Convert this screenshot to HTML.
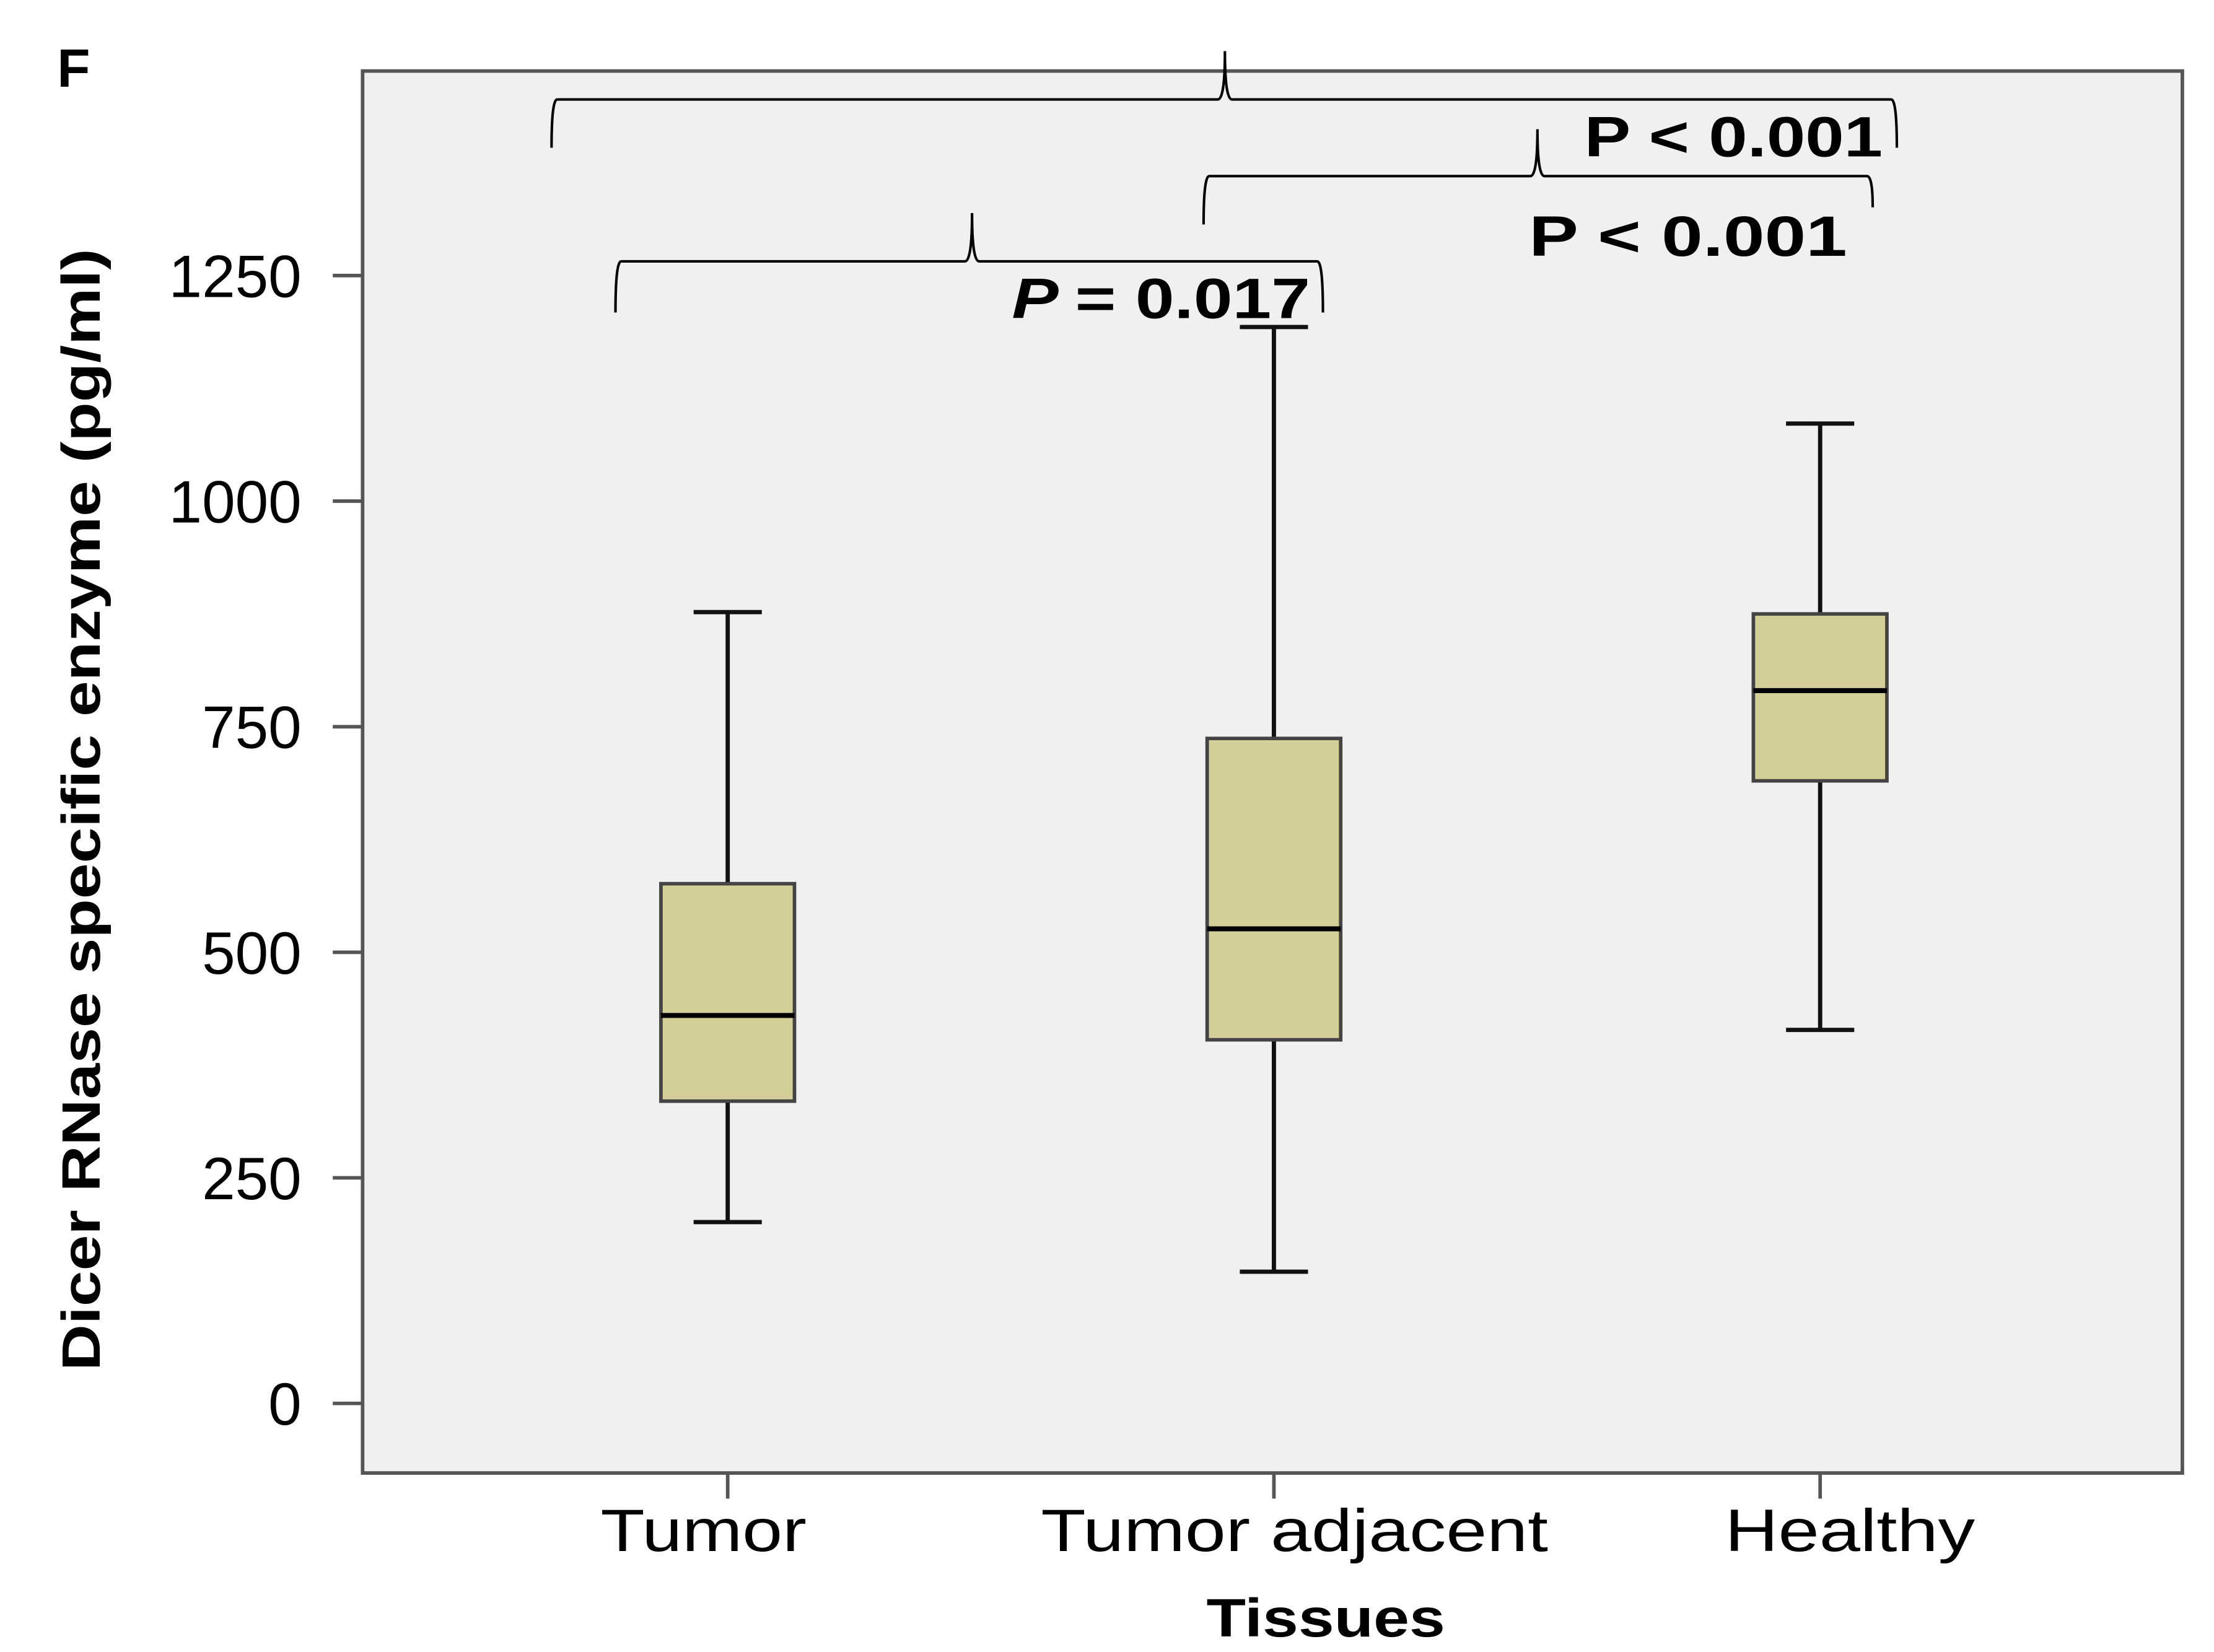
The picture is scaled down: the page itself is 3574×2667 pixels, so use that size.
<!DOCTYPE html>
<html><head><meta charset="utf-8"><style>
html,body{margin:0;padding:0;background:#fff}
svg{display:block}
text{font-family:"Liberation Sans",sans-serif}
</style></head><body>
<svg id="chart" width="3574" height="2667" viewBox="0 0 1558 1163" xmlns="http://www.w3.org/2000/svg">
<text x="40" y="61" font-size="38" font-weight="bold">F</text>
<rect x="255" y="50" width="1281" height="987" fill="#f0f0f0" stroke="#555" stroke-width="2.5"/>
<g id="yaxis"></g>
<g id="xaxis"></g>
<g id="boxes"></g>
<g id="annot" fill="none" stroke="#000"></g>
<text transform="translate(70,570) rotate(-90)" text-anchor="middle" font-size="38" font-weight="bold" textLength="790" lengthAdjust="spacingAndGlyphs">Dicer RNase specific enzyme (pg/ml)</text>
<text x="933" y="1152" text-anchor="middle" font-size="38" font-weight="bold" textLength="168" lengthAdjust="spacingAndGlyphs">Tissues</text>
</svg>
<script>
const categories = ["Tumor", "Tumor adjacent", "Healthy"];
const whiskerLow = [201, 146, 414];
const q1Values = [335, 403, 690];
const medianValues = [430, 526, 790];
const q3Values = [576, 737, 875];
const whiskerHigh = [877, 1193, 1086];
const yTicks = [0, 250, 500, 750, 1000, 1250];
const yTickLabels = ["0", "250", "500", "750", "1000", "1250"];
const pLabels = ["P < 0.001", "P  < 0.001", "= 0.017"];

const NS = "http://www.w3.org/2000/svg";
function yScale(v){ return 988 - v * (794 / 1250); }
function xScale(i){ return 512 + i * 384.5; }
function mk(tag, attrs, parent){ const e = document.createElementNS(NS, tag); for (const k in attrs) e.setAttribute(k, attrs[k]); parent.appendChild(e); return e; }

const yAxis = document.getElementById('yaxis');
yTicks.forEach((t, i) => {
  const tk = mk('line', {x1: 234, x2: 255, y1: yScale(t), y2: yScale(t), stroke: '#555', 'stroke-width': 2.5}, yAxis);
  
  
  const lbl = mk('text', {x: 212, y: yScale(t) + 15, 'text-anchor': 'end', 'font-size': 42}, yAxis);
  
  
  lbl.textContent = yTickLabels[i];
});

const xAxis = document.getElementById('xaxis');
const catWidths = [145, 357, 176];
const catCenters = [495, 911, 1302];
categories.forEach((c, i) => {
  const tk = mk('line', {x1: xScale(i), x2: xScale(i), y1: 1037, y2: 1055, stroke: '#555', 'stroke-width': 2.5}, xAxis);
  
  
  const lbl = mk('text', {x: catCenters[i], y: 1092, 'text-anchor': 'middle', 'font-size': 42, textLength: catWidths[i], lengthAdjust: 'spacingAndGlyphs'}, xAxis);
  
  
  lbl.textContent = c;
});

const boxes = document.getElementById('boxes');
categories.forEach((c, i) => {
  const cx = xScale(i), hw = 47, cw = 24;
  const g = mk('g', {}, boxes);
  
  
  mk('line', {x1: cx, x2: cx, y1: yScale(whiskerLow[i]), y2: yScale(q1Values[i]), stroke: '#111', 'stroke-width': 3}, g);
  mk('line', {x1: cx, x2: cx, y1: yScale(q3Values[i]), y2: yScale(whiskerHigh[i]), stroke: '#111', 'stroke-width': 3}, g);
  mk('line', {x1: cx - cw, x2: cx + cw, y1: yScale(whiskerLow[i]), y2: yScale(whiskerLow[i]), stroke: '#111', 'stroke-width': 3}, g);
  mk('line', {x1: cx - cw, x2: cx + cw, y1: yScale(whiskerHigh[i]), y2: yScale(whiskerHigh[i]), stroke: '#111', 'stroke-width': 3}, g);
  mk('rect', {x: cx - hw, y: yScale(q3Values[i]), width: hw * 2, height: yScale(q1Values[i]) - yScale(q3Values[i]), fill: '#d4cf98', stroke: '#444', 'stroke-width': 2.5}, g);
  mk('line', {x1: cx - hw, x2: cx + hw, y1: yScale(medianValues[i]), y2: yScale(medianValues[i]), stroke: '#000', 'stroke-width': 3.5}, g);
});

const annot = document.getElementById('annot');
function brace(x1, x2, xp, y, ytop, yl, yr, name){
  const d = `M${x1},${yl} Q${x1},${y} ${x1+4},${y} L${xp-5},${y} Q${xp},${y} ${xp},${ytop} Q${xp},${y} ${xp+5},${y} L${x2-4},${y} Q${x2},${y} ${x2},${yr}`;
  const p = mk('path', {d: d, 'stroke-width': 1.8}, annot);
  
  
}
brace(388, 1335, 862, 70, 36, 104, 104, 'bracket-tumor-vs-healthy');
brace(847, 1318, 1082, 124, 91, 158, 146, 'bracket-adjacent-vs-healthy');
brace(433, 931, 684, 184, 150, 220, 220, 'bracket-tumor-vs-adjacent');

const svg = document.getElementById('chart');
const t1 = mk('text', {x: 1115, y: 110, 'font-size': 40, 'font-weight': 'bold', textLength: 210, lengthAdjust: 'spacingAndGlyphs'}, svg);


t1.textContent = pLabels[0];
const t2 = mk('text', {x: 1076, y: 180, 'font-size': 40, 'font-weight': 'bold', textLength: 224, lengthAdjust: 'spacingAndGlyphs', 'xml:space': 'preserve'}, svg);


t2.textContent = pLabels[1];
const t3 = mk('text', {x: 712, y: 224, 'font-size': 40, 'font-weight': 'bold'}, svg);


const ts1 = mk('tspan', {'font-style': 'italic'}, t3); ts1.textContent = 'P ';
const ts2 = mk('tspan', {}, t3); ts2.textContent = pLabels[2];
t3.setAttribute('textLength', 210);
t3.setAttribute('lengthAdjust', 'spacingAndGlyphs');
</script>
</body></html>
